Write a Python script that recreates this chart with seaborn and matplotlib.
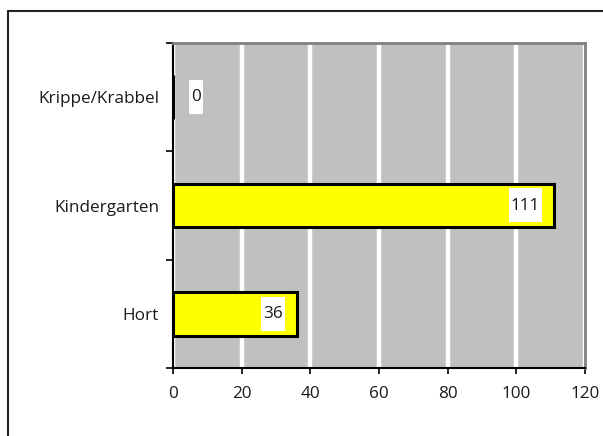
import matplotlib
matplotlib.use("Agg")
import matplotlib.pyplot as plt
import seaborn as sns
import pandas as pd
from matplotlib.lines import Line2D
from matplotlib.patches import Rectangle
from matplotlib.transforms import IdentityTransform

categories = ["Krippe/Krabbel", "Kindergarten", "Hort"]
values = [0, 111, 36]
xticks = [0, 20, 40, 60, 80, 100, 120]

sns.set_theme(style="white")
plt.rcParams["font.family"] = ["Open Sans", "DejaVu Sans"]
FS = 12.3
plt.rcParams["font.size"] = FS

df = pd.DataFrame({"cat": categories, "val": values})

fig = plt.figure(figsize=(6.03, 4.36), dpi=100)
ax = fig.add_axes([173/603, 1-368/436, (585-173)/603, (368-43)/436])
ax.set_facecolor("#C0C0C0")

sns.barplot(data=df, x="val", y="cat", order=categories, orient="h",
            color="#FFFF00", edgecolor="black", linewidth=2.2, width=0.4,
            saturation=1, ax=ax, zorder=3)

ax.set_xlim(0, 120)
ax.set_ylim(2.5, -0.5)
ax.set_xticks(xticks)
ax.set_xticklabels([str(t) for t in xticks])
ax.xaxis.grid(True, color="white", linewidth=3.2, zorder=1)
ax.set_axisbelow(True)
ax.set_xlabel("")
ax.set_ylabel("")

ax.set_yticks(range(len(categories)))
ax.set_yticklabels(categories)
ax.set_yticks([-0.5, 0.5, 1.5, 2.5], minor=True)
ax.tick_params(axis="y", which="major", length=0, pad=10, labelsize=FS, labelcolor="#1a1a1a")
ax.tick_params(axis="y", which="minor", length=5, width=1.2, color="black", direction="out", left=True)
ax.tick_params(axis="x", which="major", length=4, width=1.2, color="black", direction="out",
               bottom=True, pad=9, labelsize=FS, labelcolor="#1a1a1a")

for side in ["left", "bottom"]:
    ax.spines[side].set_color("black")
    ax.spines[side].set_linewidth(1.5)
for side in ["top", "right"]:
    ax.spines[side].set_color("#808080")
    ax.spines[side].set_linewidth(2)
    ax.spines[side].set_visible(True)

# value labels
texts = []
for i, v in enumerate(values):
    if v > 0:
        t = ax.annotate(str(v), xy=(v, i), xytext=(-14, 0), textcoords="offset pixels",
                        ha="right", va="center", fontsize=FS, color="#1a1a1a", zorder=7)
    else:
        t = ax.annotate(str(v), xy=(v, i), xytext=(18, 0), textcoords="offset pixels",
                        ha="left", va="center", fontsize=FS, color="#1a1a1a", zorder=7)
    texts.append(t)

fig.canvas.draw()
renderer = fig.canvas.get_renderer()
for i, t in enumerate(texts):
    bb = t.get_window_extent(renderer)
    yc = ax.transData.transform((0, i))[1]
    rect = Rectangle((bb.x0 - 2, yc - 17), bb.width + 4, 34, transform=IdentityTransform(),
                     facecolor="white", edgecolor="none", zorder=6, clip_on=False)
    ax.add_artist(rect)

# outer frame (top & left visible)
fig.add_artist(Line2D([8/603, 8/603], [0, 1-11/436], transform=fig.transFigure, color="#222222", linewidth=1.5))
fig.add_artist(Line2D([8/603, 1], [1-11/436, 1-11/436], transform=fig.transFigure, color="#222222", linewidth=1.5))

fig.savefig("out.png", dpi=100)
